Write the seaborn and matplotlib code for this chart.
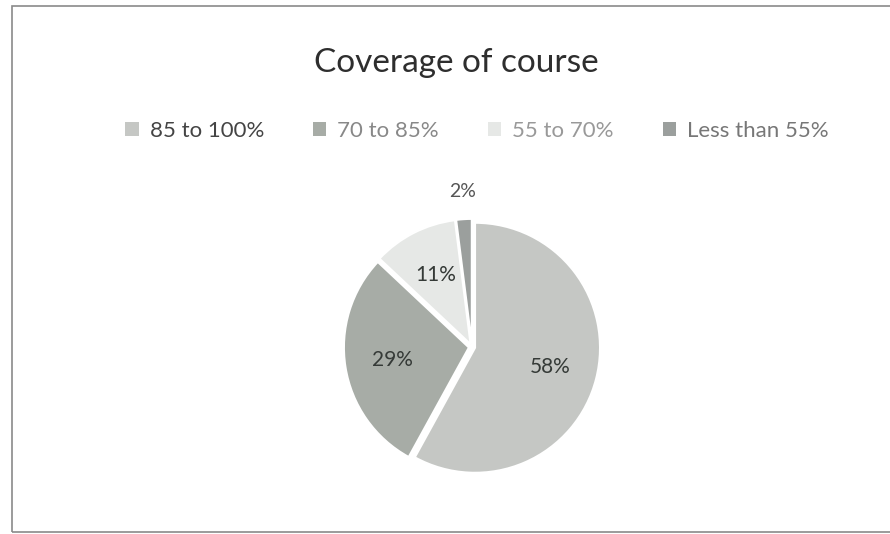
import matplotlib
matplotlib.use("Agg")
import matplotlib.pyplot as plt
import seaborn as sns
import numpy as np
from matplotlib.patches import Rectangle, Patch

categories = ["85 to 100%", "70 to 85%", "55 to 70%", "Less than 55%"]
values = [58, 29, 11, 2]
colors = ["#c5c7c4", "#a7aca6", "#e6e8e6", "#9b9f9d"]
title = "Coverage of course"

sns.set_theme(style="white")
plt.rcParams["font.family"] = ["Lato", "DejaVu Sans"]

fig = plt.figure(figsize=(8.9, 5.34), dpi=100)
fig.patch.set_facecolor("white")

W, H = 890, 534
cx, cy, r = 472, 347, 125
half = 1.12 * r
ax = fig.add_axes([(cx - half) / W, (H - cy - half) / H, 2 * half / W, 2 * half / H])

wedges, texts, autotexts = ax.pie(
    values, colors=colors, startangle=90, counterclock=False,
    explode=[0.025] * len(values), autopct="%1.0f%%", pctdistance=0.62,
    wedgeprops=dict(edgecolor="white", linewidth=1.5),
    textprops=dict(color="#353a37", fontsize=15))
ax.set_xlim(-1.12, 1.12)
ax.set_ylim(-1.12, 1.12)
ax.set_aspect("equal")
ax.axis("off")

# move tiny slice label outside
for w, t, v in zip(wedges, autotexts, values):
    if v < 5:
        ang = np.deg2rad((w.theta1 + w.theta2) / 2)
        t.set_position((1.25 * np.cos(ang), 1.25 * np.sin(ang)))
        t.set_color("#555555")
        t.set_fontsize(14)

fig.text(456 / W, 1 - 63 / H, title, ha="center", va="center",
         fontsize=24, color="#2e2e2e")

handles = [Patch(facecolor=c, edgecolor="none") for c in colors]
leg = fig.legend(handles, categories, loc="center", bbox_to_anchor=(477 / W, 1 - 131 / H),
                 ncol=4, frameon=False, fontsize=16, handlelength=0.6, handleheight=0.6,
                 handletextpad=0.5, columnspacing=2.2)
for txt, c in zip(leg.get_texts(), ["#444444", "#888888", "#999999", "#777777"]):
    txt.set_color(c)

fig.add_artist(Rectangle((12 / W, 2 / H), (W - 8) / W, (H - 8) / H,
                         transform=fig.transFigure, fill=False,
                         edgecolor="#8a8a8a", linewidth=1.2))

fig.savefig("out.png", dpi=100)
